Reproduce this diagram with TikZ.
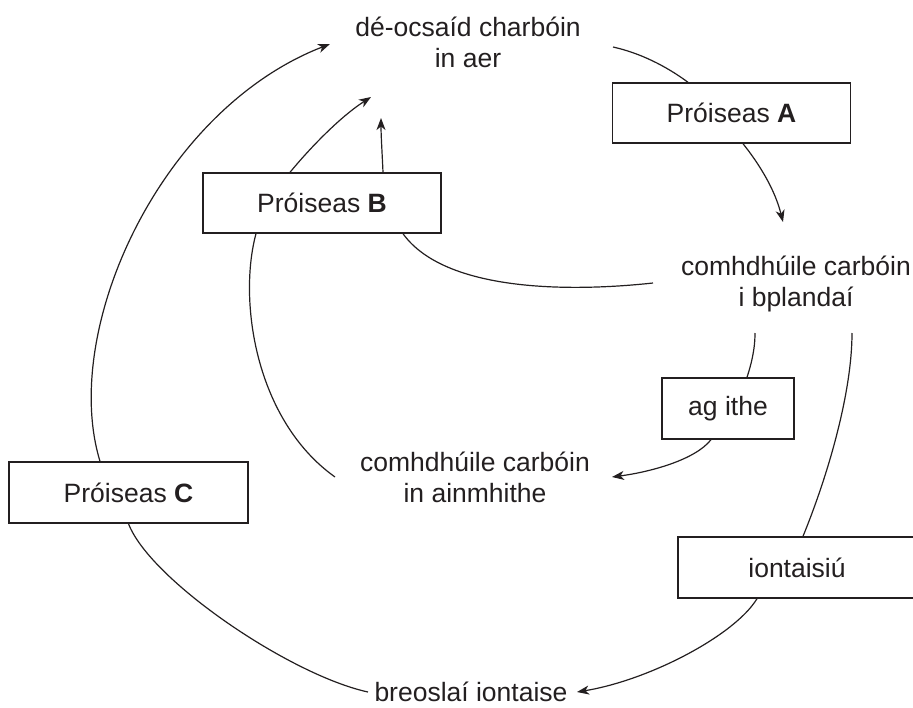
\documentclass[tikz,border=0pt]{standalone}
\usepackage{fontspec}
\setmainfont{Liberation Sans}
\usepackage{tikz}
\usetikzlibrary{calc,
	arrows.meta,
	positioning}
\definecolor{ink}{HTML}{231F20}
\tikzstyle{bx}=[draw=ink, line width=1.4pt, minimum width=238pt, minimum height=60pt, inner sep=0]
\tikzstyle{lbl}=[align=center, inner sep=0]
\tikzstyle{ln}=[draw=ink, line width=1.2pt]
\tikzstyle{arr}=[ln, -{Stealth[length=12pt,width=9pt,inset=3.5pt]}]

\begin{document}
\begin{tikzpicture}[x=1pt, y=-1pt, font=\fontsize{26.5}{31}\selectfont, text=ink]
                \useasboundingbox (0,0) rectangle (913,707);
                % reservoirs
                \node[lbl] (air) at (468,42) {dé-ocsaíd charbóin\\in aer};
                \node[lbl] (plants) at (796,284) {comhdhúile carbóin\\i bplandaí};
                \node[lbl] (animals) at (475,477) {comhdhúile carbóin\\in ainmhithe};
                \node[lbl] (fuels) at (471,692) {breoslaí iontaise};
                % processes
                \node[bx] (procA) at (731.5,113) {Próiseas \textbf{A}};
                \node[bx] (procB) at (322,203) {Próiseas \textbf{B}};
                \node[bx, minimum width=239pt, minimum height=61pt] (procC) at (128.5,492.5) {Próiseas \textbf{C}};
                \node[bx, minimum width=132pt, minimum height=61pt] (eat) at (728,408.5) {ag ithe};
                \node[bx, minimum height=61pt] (foss) at (797,567.5) {iontaisiú};
                % flows
                \draw[ln] ($(air)+(145,5)$) .. controls (640,53) and (666,66) .. ($(procA.north)+(-43.5,0)$);
                \draw[arr] ($(procA.south)+(11.5,0)$) .. controls (760,165) and (775,190) .. ($(plants)+(-13,-62)$);
                \draw[ln] ($(plants)+(-143,-1)$) .. controls (570,292) and (445,292) .. ($(procB.south)+(81,0)$);
                \draw[arr] ($(procB.north)+(-32,0)$) .. controls (310,148) and (340,117) .. ($(air)+(-97,55)$);
                \draw[arr] ($(procB.north)+(61,0)$) .. controls (382,150) and (381,135) .. ($(air)+(-87,76)$);
                \draw[ln] ($(procB.south)+(-66,0)$) .. controls (238,300) and (255,420) .. ($(animals)+(-140,0)$);
                \draw[arr] ($(procC.north)+(-28.5,0)$) .. controls (60,330) and (160,110) .. ($(air)+(-138,2)$);
                \draw[ln] (procC.south) .. controls (150,580) and (290,675) .. ($(fuels)+(-103,0)$);
                \draw[arr] ($(foss.south)+(-40,0)$) .. controls (735,635) and (650,680) .. ($(fuels)+(106,0)$);
                \draw[ln] ($(plants)+(56,49)$) .. controls (852,390) and (830,470) .. ($(foss.north)+(6,0)$);
                \draw[ln] ($(plants)+(-41,49)$) .. controls (755,350) and (751,365) .. ($(eat.north)+(19,0)$);
                \draw[arr] ($(eat.south)+(-17,0)$) .. controls (695,460) and (650,472) .. ($(animals)+(137,0)$);
\end{tikzpicture}
\end{document}
